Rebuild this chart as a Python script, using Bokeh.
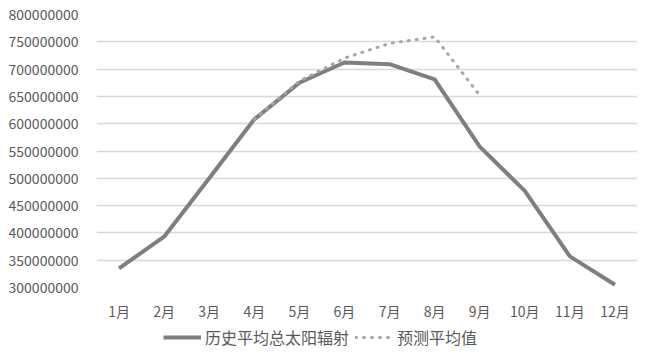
from bokeh.plotting import figure
from bokeh.layouts import column
from bokeh.models import (FactorRange, Range1d, FixedTicker, BasicTickFormatter,
                          Legend, LegendItem, ColumnDataSource)
from bokeh.embed import file_html
from bokeh.resources import INLINE

months = ["1月", "2月", "3月", "4月", "5月", "6月", "7月", "8月", "9月", "10月", "11月", "12月"]
history = [335000000, 393000000, 500000000, 608000000, 675000000, 712000000,
           709000000, 681000000, 558000000, 477000000, 357000000, 305000000]
forecast_months = ["4月", "5月", "6月", "7月", "8月", "9月"]
forecast = [608000000, 678000000, 720000000, 747000000, 759000000, 652000000]
y_ticks = [300000000, 350000000, 400000000, 450000000, 500000000, 550000000,
           600000000, 650000000, 700000000, 750000000, 800000000]
series_names = ["历史平均总太阳辐射", "预测平均值"]

FONT = "Noto Sans CJK SC"
TXT = "#595959"
H_STYLE = dict(line_color="#7f7f7f", line_width=4, line_join="round")
F_STYLE = dict(line_color="#a6a6a6", line_width=3, line_dash="1 7", line_cap="round")

p = figure(frame_width=541, frame_height=273, x_range=FactorRange(*months),
           y_range=Range1d(300000000, 800000000),
           output_backend="svg", toolbar_location=None,
           min_border_left=96, min_border_right=0, min_border_top=14,
           min_border_bottom=30)
p.outline_line_color = None
p.background_fill_color = "white"
p.border_fill_color = "white"

src_h = ColumnDataSource(dict(x=months, y=history))
src_f = ColumnDataSource(dict(x=forecast_months, y=forecast))
p.line("x", "y", source=src_h, **H_STYLE)
p.line("x", "y", source=src_f, **F_STYLE)

p.yaxis.ticker = FixedTicker(ticks=y_ticks)
p.yaxis.formatter = BasicTickFormatter(use_scientific=False)
p.xgrid.grid_line_color = None
p.ygrid.grid_line_color = "#d9d9d9"
p.ygrid.grid_line_width = 1.5
for ax in (p.xaxis[0], p.yaxis[0]):
    ax.axis_line_color = None
    ax.major_tick_line_color = None
    ax.minor_tick_line_color = None
    ax.major_label_text_font = FONT
    ax.major_label_text_color = TXT
    ax.major_label_text_font_size = "14px"
p.yaxis.major_label_standoff = 12
p.xaxis.major_label_standoff = 7

# legend strip below the chart (its frame is aligned with the chart's frame)
pl = figure(width=637, height=40, x_range=Range1d(0, 1), y_range=Range1d(0, 1),
            output_backend="svg", toolbar_location=None,
            min_border_left=0, min_border_right=0, min_border_top=0, min_border_bottom=0,
            x_axis_type=None, y_axis_type=None)
pl.outline_line_color = None
pl.xgrid.grid_line_color = None
pl.ygrid.grid_line_color = None
lh = pl.line(x=[5, 6], y=[5, 6], **H_STYLE)
lf = pl.line(x=[5, 6], y=[5, 6], **F_STYLE)
legend = Legend(items=[LegendItem(label=series_names[0], renderers=[lh]),
                       LegendItem(label=series_names[1], renderers=[lf])],
                orientation="horizontal", location=(67, 14),
                label_text_font=FONT, label_text_color=TXT,
                label_text_font_size="16px", glyph_width=38, glyph_height=16,
                border_line_color=None, background_fill_alpha=0,
                spacing=6, padding=2, margin=0, label_standoff=4,
                label_height=16)
pl.add_layout(legend)

layout = column(p, pl, spacing=0)
open("out.html", "w").write(file_html(layout, INLINE))
